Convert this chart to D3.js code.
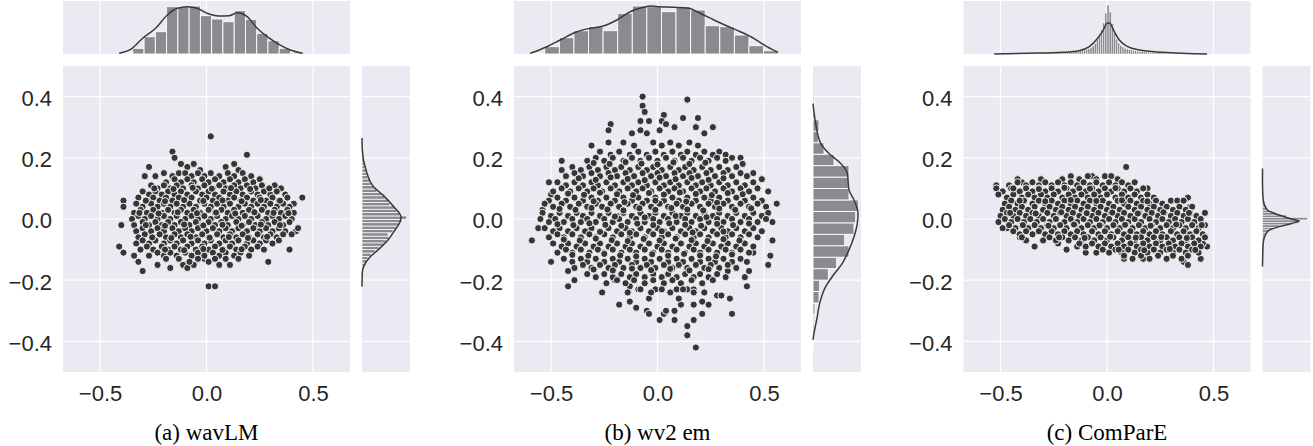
<!DOCTYPE html>
<html><head><meta charset="utf-8">
<script src="https://cdn.jsdelivr.net/npm/d3@7"></script>
<style>body{margin:0;background:#fff;}svg{display:block}</style>
</head><body>
<svg id="chart" width="1313" height="446"></svg>
<script>
// ---------- tick labels / captions ----------
const xTicks = [-0.5, 0, 0.5];
const xTickLabels = ["\u22120.5", "0.0", "0.5"];
const yTicks = [-0.4, -0.2, 0, 0.2, 0.4];
const yTickLabels = ["\u22120.4", "\u22120.2", "0.0", "0.2", "0.4"];
const captions = ["(a) wavLM", "(b) wv2 em", "(c) ComParE"];

// ---------- (a) wavLM ----------
const wavlmPoints = [
[.02,.27],[-.16,.22],[-.15,.20],[.19,.21],[-.27,.17],[-.29,.14],[-.24,.14],[-.39,.06],[-.39,.04],[-.40,-.02],[.45,.07],[.41,.05],[-.41,-.09],[-.39,-.11],[-.34,-.12],[-.32,-.14],[-.30,-.17],[-.23,-.15],[-.17,-.16],[-.11,-.15],[-.09,-.16],[-.06,-.15],[-.01,-.13],[.01,-.14],[.06,-.15],[.11,-.15],[.29,-.14],[.39,-.10],[.42,-.04],[.43,-.03],[.01,-.22],[.04,-.22],
[-.12,.18],[-.09,.17],[-.06,.18],[-.03,.16],[.09,.17],[.13,.18],[.15,.16],
[-.20,.15],[-.16,.14],[-.13,.15],[-.10,.15],[-.07,.14],[-.04,.15],[-.01,.14],[.02,.15],[.06,.14],[.10,.15],[.13,.14],[.17,.15],[.21,.14],
[-.19,.12],[-.15,.13],[-.12,.12],[-.09,.13],[-.06,.12],[-.02,.13],[.01,.12],[.04,.13],[.08,.12],[.11,.13],[.15,.12],[.18,.13],[.22,.12],[.25,.13],
[-.26,.11],[-.23,.10],[-.20,.11],[-.17,.10],[-.14,.11],[-.11,.10],[-.07,.11],[-.04,.10],[-.01,.11],[.03,.10],[.06,.11],[.09,.10],[.13,.11],[.16,.10],[.19,.11],[.23,.10],[.26,.11],[.29,.10],[.32,.11],[.35,.10],
[-.30,.09],[-.27,.08],[-.24,.09],[-.21,.08],[-.18,.09],[-.15,.08],[-.12,.09],[-.09,.08],[-.05,.09],[-.02,.08],[.01,.09],[.04,.08],[.08,.09],[.11,.08],[.14,.09],[.17,.08],[.21,.09],[.24,.08],[.27,.09],[.30,.08],[.33,.09],[.37,.08],
[-.32,.07],[-.28,.06],[-.25,.07],[-.22,.06],[-.19,.07],[-.16,.06],[-.13,.07],[-.10,.06],[-.07,.07],[-.03,.06],[0,.07],[.03,.06],[.06,.07],[.10,.06],[.13,.07],[.16,.06],[.19,.07],[.22,.06],[.25,.07],[.28,.06],[.31,.07],[.34,.06],[.38,.07],
[-.33,.05],[-.30,.04],[-.26,.05],[-.23,.04],[-.20,.05],[-.17,.04],[-.14,.05],[-.11,.04],[-.08,.05],[-.05,.04],[-.01,.05],[.02,.04],[.05,.05],[.08,.04],[.11,.05],[.15,.04],[.18,.05],[.21,.04],[.24,.05],[.27,.04],[.30,.05],[.33,.04],[.36,.05],[.39,.04],
[-.34,.02],[-.31,.03],[-.28,.02],[-.25,.03],[-.21,.02],[-.18,.03],[-.15,.02],[-.12,.03],[-.09,.02],[-.06,.03],[-.03,.02],[.01,.03],[.04,.02],[.07,.03],[.10,.02],[.13,.03],[.17,.02],[.20,.03],[.23,.02],[.26,.03],[.29,.02],[.32,.03],[.35,.02],[.38,.03],[.41,.02],
[-.35,0],[-.32,.01],[-.29,0],[-.26,.01],[-.23,0],[-.20,.01],[-.17,0],[-.14,.01],[-.10,0],[-.07,.01],[-.04,0],[-.01,.01],[.02,0],[.05,.01],[.09,0],[.12,.01],[.15,0],[.18,.01],[.21,0],[.24,.01],[.28,0],[.31,.01],[.34,0],[.37,.01],[.40,0],
[-.34,-.02],[-.30,-.01],[-.27,-.02],[-.24,-.01],[-.21,-.02],[-.18,-.01],[-.15,-.02],[-.12,-.01],[-.08,-.02],[-.05,-.01],[-.02,-.02],[.01,-.01],[.04,-.02],[.07,-.01],[.10,-.02],[.14,-.01],[.17,-.02],[.20,-.01],[.23,-.02],[.26,-.01],[.29,-.02],[.32,-.01],[.36,-.02],[.39,-.01],
[-.33,-.04],[-.30,-.03],[-.26,-.04],[-.23,-.03],[-.20,-.04],[-.16,-.03],[-.13,-.04],[-.10,-.03],[-.07,-.04],[-.04,-.03],[0,-.04],[.03,-.03],[.06,-.04],[.09,-.03],[.12,-.04],[.15,-.03],[.19,-.04],[.22,-.03],[.25,-.04],[.28,-.03],[.31,-.04],[.34,-.03],[.37,-.04],[.40,-.05],
[-.32,-.06],[-.29,-.05],[-.25,-.06],[-.22,-.05],[-.19,-.06],[-.15,-.05],[-.12,-.06],[-.09,-.05],[-.05,-.06],[-.02,-.05],[.01,-.06],[.05,-.05],[.08,-.06],[.11,-.05],[.14,-.06],[.17,-.05],[.20,-.06],[.24,-.05],[.27,-.06],[.30,-.05],[.33,-.06],[.36,-.05],
[-.33,-.08],[-.30,-.07],[-.27,-.08],[-.24,-.07],[-.20,-.08],[-.17,-.07],[-.14,-.08],[-.11,-.07],[-.07,-.08],[-.04,-.07],[-.01,-.08],[.02,-.07],[.06,-.08],[.09,-.07],[.12,-.08],[.15,-.07],[.19,-.08],[.22,-.07],[.25,-.08],[.28,-.07],[.31,-.08],[.34,-.07],
[-.31,-.10],[-.28,-.09],[-.25,-.10],[-.21,-.09],[-.18,-.10],[-.15,-.09],[-.12,-.10],[-.09,-.09],[-.05,-.10],[-.02,-.09],[.01,-.10],[.04,-.09],[.08,-.10],[.11,-.09],[.14,-.10],[.18,-.09],[.21,-.10],[.24,-.09],[.27,-.10],
[-.27,-.12],[-.23,-.11],[-.20,-.12],[-.17,-.11],[-.14,-.12],[-.10,-.11],[-.07,-.12],[-.04,-.11],[-.01,-.12],[.03,-.11],[.06,-.12],[.09,-.11],[.13,-.12],[.16,-.11],[.20,-.12],
[-.19,-.13],[-.13,-.13],[-.08,-.14],[-.04,-.13],[.04,-.13],[.09,-.13],[.15,-.13],
[-.245,.10],[-.155,.098],[-.065,.102],[.025,.099],[.115,.101],[.205,.098],[.295,.1],
[-.285,.06],[-.195,.058],[-.105,.062],[-.015,.059],[.075,.061],[.165,.058],[.255,.062],[.345,.06],
[-.315,.02],[-.225,.018],[-.135,.022],[-.045,.019],[.045,.021],[.135,.018],[.225,.022],[.315,.02],[.385,.019],
[-.285,-.02],[-.195,-.022],[-.105,-.018],[-.015,-.021],[.075,-.019],[.165,-.022],[.255,-.018],[.345,-.02],
[-.255,-.06],[-.165,-.062],[-.075,-.058],[.015,-.061],[.105,-.059],[.195,-.062],[.285,-.058],
[-.195,-.10],[-.105,-.102],[-.015,-.098],[.075,-.101],[.165,-.099]
];
const wavlmXBinStart = -0.399, wavlmXBinWidth = 0.0529;
const wavlmXCounts = [1, 5.7, 17.3, 22.3, 47.3, 47.3, 48, 38.3, 35, 32.3, 43.3, 34.7, 20.7, 13.3, 5.7, 1.2];
const wavlmXKde = [[-.41,.7],[-.349,5.7],[-.30,15.7],[-.239,25.7],[-.184,39],[-.137,45.7],[-.09,47.3],[-.044,45.7],[.003,40.7],[.058,38],[.105,38.3],[.147,41.3],[.191,37.3],[.238,25.7],[.285,17.3],[.332,10.7],[.394,4],[.452,.7]];
const wavlmYBinStart = -0.221, wavlmYBinWidth = 0.011;
const wavlmYCounts = [.6,0,0,.3,.6,1.5,2.5,5,6,9,13,17,22,24,27,26,31,34,37,40,44.7,38,35,33,28,27,23,20,15,12,9,8,6,5,4.5,3,2.5,2,1.2,1,.4,0,0,.3];
const wavlmYKde = [[-.221,0],[-.176,.3],[-.157,1.5],[-.124,8],[-.101,16],[-.0685,26],[-.036,33],[-.0098,38],[.0065,39],[.039,32],[.078,21],[.104,12],[.160,4],[.225,.3],[.265,0]];

// ---------- (b) wv2 em ----------
const wv2Points = [
[-.07,.40],[.14,.39],[-.07,.37],[-.06,.35],[-.08,.32],[-.04,.32],[.03,.34],[.02,.32],[.12,.33],[.19,.33],[-.22,.31],[-.23,.29],[-.23,.25],[-.12,.28],[-.08,.29],[-.05,.28],[.18,.30],[.26,.30],[.22,.28],[.04,.31],[.08,.30],[.01,.29],[-.31,.24],[.29,.22],[.32,.21],[.35,.20],[.39,.20],[.40,.18],[-.45,.19],[-.45,.16],[-.51,.12],[-.50,.08],[-.54,.03],[.52,.09],[.56,.05],[.49,.13],[.45,.15],
[-.56,-.03],[-.59,-.07],[-.50,-.14],[-.42,-.17],[-.42,-.22],[-.39,-.20],[-.26,-.24],[-.20,-.20],[-.18,-.28],[-.13,-.27],[-.10,-.29],[-.05,-.30],[-.04,-.31],[.01,-.33],[.03,-.31],[.08,-.30],[.08,-.33],[.14,-.35],[.14,-.38],[.18,-.42],[.17,-.33],[.17,-.28],[.21,-.27],[.24,-.28],[.21,-.31],[.28,-.25],[.30,-.25],[.34,-.26],[.35,-.31],[.42,-.22],[.41,-.19],[.43,-.17],[.45,-.11],[.52,-.15],[.53,-.12],[.54,-.07],[.54,-.01],[-.04,-.26],[.04,-.30],[.11,-.28],[.10,-.26],[-.01,-.23],[-.09,-.23],[-.13,-.22],[.09,-.23],[.14,-.23],[.17,-.23],[.22,-.24],[.29,-.16],[.33,-.17],
[-.16,.25],[-.11,.24],[-.02,.25],[.02,.24],[.06,.25],[.10,.24],[.15,.25],[.19,.24],
[-.27,.22],[-.22,.21],[-.18,.22],[-.13,.21],[-.09,.22],[-.05,.21],[-.01,.22],[.03,.21],[.07,.22],[.11,.21],[.14,.22],[.18,.21],[.22,.22],[.26,.21],
[-.33,.19],[-.29,.20],[-.25,.19],[-.21,.20],[-.16,.19],[-.12,.20],[-.08,.19],[-.04,.20],[0,.19],[.04,.20],[.08,.19],[.12,.20],[.16,.19],[.20,.20],[.24,.19],[.28,.20],[.32,.19],
[-.40,.17],[-.36,.16],[-.32,.17],[-.28,.16],[-.24,.17],[-.20,.16],[-.17,.17],[-.13,.16],[-.09,.17],[-.05,.16],[-.02,.17],[.02,.16],[.06,.17],[.10,.16],[.13,.17],[.17,.16],[.21,.17],[.25,.16],[.29,.17],[.33,.16],[.37,.17],
[-.43,.14],[-.39,.15],[-.35,.14],[-.31,.15],[-.27,.14],[-.23,.15],[-.19,.14],[-.15,.15],[-.11,.14],[-.07,.15],[-.03,.14],[0,.15],[.04,.14],[.08,.15],[.12,.14],[.15,.15],[.19,.14],[.23,.15],[.27,.14],[.31,.15],[.35,.14],[.39,.15],[.42,.14],
[-.47,.12],[-.43,.11],[-.39,.12],[-.35,.11],[-.31,.12],[-.28,.11],[-.24,.12],[-.20,.11],[-.16,.12],[-.12,.11],[-.09,.12],[-.05,.11],[-.01,.12],[.03,.11],[.06,.12],[.10,.11],[.14,.12],[.18,.11],[.21,.12],[.25,.11],[.29,.12],[.33,.11],[.37,.12],[.41,.11],[.45,.12],
[-.49,.09],[-.45,.10],[-.41,.09],[-.37,.10],[-.33,.09],[-.30,.10],[-.26,.09],[-.22,.10],[-.18,.09],[-.14,.10],[-.10,.09],[-.07,.10],[-.03,.09],[.01,.10],[.05,.09],[.08,.10],[.12,.09],[.16,.10],[.20,.09],[.23,.10],[.27,.09],[.31,.10],[.35,.09],[.39,.10],[.43,.09],[.47,.10],
[-.51,.06],[-.47,.07],[-.43,.06],[-.39,.07],[-.35,.06],[-.31,.07],[-.28,.06],[-.24,.07],[-.20,.06],[-.16,.07],[-.12,.06],[-.09,.07],[-.05,.06],[-.01,.07],[.03,.06],[.07,.07],[.10,.06],[.14,.07],[.18,.06],[.22,.07],[.25,.06],[.29,.07],[.33,.06],[.37,.07],[.41,.06],[.45,.07],[.49,.06],
[-.53,.05],[-.49,.04],[-.45,.05],[-.41,.04],[-.37,.05],[-.33,.04],[-.29,.05],[-.26,.04],[-.22,.05],[-.18,.04],[-.14,.05],[-.10,.04],[-.07,.05],[-.03,.04],[.01,.05],[.05,.04],[.09,.05],[.12,.04],[.16,.05],[.20,.04],[.24,.05],[.27,.04],[.31,.05],[.35,.04],[.39,.05],[.43,.04],[.47,.05],[.51,.04],
[-.54,.02],[-.50,.01],[-.46,.02],[-.42,.01],[-.38,.02],[-.35,.01],[-.31,.02],[-.27,.01],[-.23,.02],[-.19,.01],[-.16,.02],[-.12,.01],[-.08,.02],[-.04,.01],[-.01,.02],[.03,.01],[.07,.02],[.11,.01],[.14,.02],[.18,.01],[.22,.02],[.26,.01],[.29,.02],[.33,.01],[.37,.02],[.41,.01],[.45,.02],[.49,.01],[.52,.02],
[-.55,0],[-.51,-.01],[-.48,0],[-.44,-.01],[-.40,0],[-.36,-.01],[-.33,0],[-.29,-.01],[-.25,0],[-.21,-.01],[-.18,0],[-.14,-.01],[-.10,0],[-.06,-.01],[-.02,0],[.01,-.01],[.05,0],[.09,-.01],[.13,0],[.16,-.01],[.20,0],[.24,-.01],[.28,0],[.31,-.01],[.35,0],[.39,-.01],[.43,0],[.47,-.01],[.51,0],
[-.53,-.03],[-.49,-.04],[-.46,-.03],[-.42,-.04],[-.38,-.03],[-.34,-.04],[-.31,-.03],[-.27,-.04],[-.23,-.03],[-.19,-.04],[-.15,-.03],[-.12,-.04],[-.08,-.03],[-.04,-.04],[0,-.03],[.03,-.04],[.07,-.03],[.11,-.04],[.15,-.03],[.18,-.04],[.22,-.03],[.26,-.04],[.30,-.03],[.33,-.04],[.37,-.03],[.41,-.04],[.45,-.03],[.49,-.04],
[-.51,-.06],[-.47,-.05],[-.44,-.06],[-.40,-.05],[-.36,-.06],[-.32,-.05],[-.29,-.06],[-.25,-.05],[-.21,-.06],[-.17,-.05],[-.13,-.06],[-.10,-.05],[-.06,-.06],[-.02,-.05],[.02,-.06],[.05,-.05],[.09,-.06],[.13,-.05],[.17,-.06],[.20,-.05],[.24,-.06],[.28,-.05],[.32,-.06],[.35,-.05],[.39,-.06],[.43,-.05],[.47,-.06],
[-.49,-.08],[-.45,-.09],[-.42,-.08],[-.38,-.09],[-.34,-.08],[-.30,-.09],[-.27,-.08],[-.23,-.09],[-.19,-.08],[-.15,-.09],[-.12,-.08],[-.08,-.09],[-.04,-.08],[0,-.09],[.03,-.08],[.07,-.09],[.11,-.08],[.15,-.09],[.18,-.08],[.22,-.09],[.26,-.08],[.30,-.09],[.33,-.08],[.37,-.09],[.41,-.08],[.45,-.09],
[-.47,-.11],[-.43,-.10],[-.40,-.11],[-.36,-.10],[-.32,-.11],[-.28,-.10],[-.25,-.11],[-.21,-.10],[-.17,-.11],[-.13,-.10],[-.10,-.11],[-.06,-.10],[-.02,-.11],[.02,-.10],[.05,-.11],[.09,-.10],[.13,-.11],[.17,-.10],[.20,-.11],[.24,-.10],[.28,-.11],[.32,-.10],[.35,-.11],[.39,-.10],[.43,-.11],
[-.44,-.13],[-.40,-.14],[-.36,-.13],[-.33,-.14],[-.29,-.13],[-.25,-.14],[-.21,-.13],[-.18,-.14],[-.14,-.13],[-.10,-.14],[-.06,-.13],[-.03,-.14],[.01,-.13],[.05,-.14],[.09,-.13],[.12,-.14],[.16,-.13],[.20,-.14],[.24,-.13],[.27,-.14],[.31,-.13],[.35,-.14],[.39,-.13],[.42,-.14],
[-.39,-.16],[-.35,-.15],[-.31,-.16],[-.27,-.15],[-.23,-.16],[-.20,-.15],[-.16,-.16],[-.12,-.15],[-.08,-.16],[-.05,-.15],[-.01,-.16],[.03,-.15],[.07,-.16],[.10,-.15],[.14,-.16],[.18,-.15],[.22,-.16],[.25,-.15],[.29,-.16],[.33,-.15],[.37,-.16],
[-.33,-.18],[-.29,-.19],[-.25,-.18],[-.21,-.19],[-.17,-.18],[-.13,-.19],[-.10,-.18],[-.06,-.19],[-.02,-.18],[.02,-.19],[.05,-.18],[.09,-.19],[.13,-.18],[.17,-.19],[.20,-.18],[.24,-.19],[.28,-.18],[.32,-.19],
[-.24,-.21],[-.19,-.20],[-.15,-.21],[-.11,-.20],[-.06,-.21],[-.02,-.20],[.03,-.21],[.07,-.20],[.11,-.21],[.16,-.20],[.21,-.21],[.26,-.20],
[-.14,-.24],[-.08,-.23],[-.03,-.24],[.02,-.23],[.06,-.24],[.12,-.23],[.17,-.24],
[-.30,.183],[-.225,.18],[-.15,.186],[-.075,.181],[0,.178],[.075,.185],[.15,.18],[.225,.184],
[-.37,.133],[-.29,.128],[-.22,.136],[-.14,.131],[-.06,.127],[.01,.135],[.085,.13],[.16,.134],[.24,.128],[.31,.133],
[-.42,.083],[-.345,.079],[-.27,.086],[-.19,.081],[-.115,.078],[-.04,.085],[.03,.08],[.105,.087],[.18,.082],[.255,.078],[.33,.085],[.40,.081],
[-.30,.058],[-.155,.055],[-.01,.06],[.135,.057],[.28,.053],
[-.46,.033],[-.385,.03],[-.31,.036],[-.235,.031],[-.16,.028],[-.085,.035],[-.01,.03],[.065,.036],[.14,.031],[.215,.028],[.29,.034],[.365,.03],[.44,.035],
[-.2,.008],[-.06,.005],[.085,.01],[.23,.006],
[-.47,-.017],[-.395,-.02],[-.32,-.014],[-.245,-.019],[-.17,-.022],[-.095,-.015],[-.02,-.02],[.055,-.014],[.13,-.019],[.205,-.022],[.28,-.016],[.355,-.02],[.43,-.015],
[-.27,-.042],[-.13,-.045],[.02,-.04],[.165,-.044],[.31,-.041],
[-.44,-.067],[-.365,-.07],[-.29,-.064],[-.215,-.069],[-.14,-.072],[-.065,-.065],[.01,-.07],[.085,-.064],[.16,-.069],[.235,-.072],[.31,-.066],[.385,-.07],
[-.40,-.117],[-.325,-.12],[-.25,-.114],[-.175,-.119],[-.1,-.122],[-.025,-.115],[.05,-.12],[.125,-.114],[.2,-.119],[.275,-.122],[.35,-.116],
[-.3,-.165],[-.21,-.168],[-.12,-.162],[-.03,-.167],[.06,-.163],[.15,-.168],[.24,-.164]
];
const wv2XBinStart = -0.598, wv2XBinWidth = 0.0685;
const wv2XCounts = [.5, 7.3, 16.3, 23.3, 27.3, 23.3, 40.7, 48, 47.3, 42.3, 47.3, 44, 28.3, 27.3, 19, 8.3, 3.3];
const wv2XKde = [[-.598,.7],[-.52,7.3],[-.457,14],[-.378,22.3],[-.316,25.7],[-.254,28],[-.191,34],[-.128,42.3],[-.066,46.7],[-.034,48],[.013,47.3],[.077,46.7],[.146,45.7],[.2,40.7],[.265,34],[.327,28],[.389,22.3],[.452,15.7],[.514,7.3],[.566,1.7]];
const wv2YBinStart = -0.424, wv2YBinWidth = 0.0374;
const wv2YCounts = [.5, 1, 1, 2, 6, 6.7, 15.3, 23.7, 36, 31.7, 41, 42.7, 45.3, 36, 35.3, 36, 21, 11, 5.3, 6, 1.5, 1];
const wv2YKde = [[-.395,0],[-.373,1],[-.319,4.3],[-.275,6.7],[-.221,12.7],[-.188,19.3],[-.145,29.3],[-.101,36],[-.058,41],[-.014,44.3],[.019,45],[.062,41],[.095,36],[.149,34.3],[.187,26],[.214,16],[.247,7.7],[.312,2.7],[.377,0]];

// ---------- (c) ComParE ----------
const comparePoints = [
[.09,.17],[.19,.10],[-.52,.11],[-.40,.12],[-.07,.14],[.38,.07],[.39,.04],[.46,.02],[-.47,-.03],[-.41,-.06],[-.38,-.07],[-.34,-.09],[-.23,-.08],[-.19,-.10],[-.14,-.09],[-.10,-.11],[-.05,-.11],[.08,-.13],[.17,-.13],[.36,-.14],[.38,-.15],[.44,-.13],[.47,-.09],[.45,-.08],
[-.42,.13],[-.31,.13],[-.21,.13],[-.17,.14],[-.13,.13],[-.09,.14],[-.05,.13],[-.01,.14],[.02,.14],[.05,.13],
[-.46,.11],[-.42,.12],[-.38,.11],[-.35,.12],[-.32,.11],[-.29,.12],[-.26,.11],[-.23,.12],[-.20,.11],[-.17,.12],[-.14,.11],[-.11,.12],[-.08,.11],[-.05,.12],[-.02,.11],[.01,.12],[.04,.11],[.07,.12],[.10,.11],[.13,.12],
[-.52,.10],[-.49,.09],[-.45,.10],[-.41,.09],[-.38,.10],[-.35,.09],[-.32,.10],[-.29,.09],[-.26,.10],[-.23,.09],[-.19,.10],[-.16,.09],[-.13,.10],[-.10,.09],[-.07,.10],[-.04,.09],[-.01,.10],[.02,.09],[.05,.10],[.08,.09],[.11,.10],[.14,.09],[.17,.10],
[-.51,.08],[-.47,.07],[-.44,.08],[-.40,.07],[-.37,.08],[-.34,.07],[-.31,.08],[-.28,.07],[-.25,.08],[-.21,.07],[-.18,.08],[-.15,.07],[-.12,.08],[-.09,.07],[-.06,.08],[-.03,.07],[0,.08],[.04,.07],[.07,.08],[.10,.07],[.13,.08],[.16,.07],[.19,.08],[.22,.07],
[-.48,.05],[-.45,.06],[-.42,.05],[-.39,.06],[-.35,.05],[-.32,.06],[-.29,.05],[-.26,.06],[-.23,.05],[-.20,.06],[-.17,.05],[-.14,.06],[-.11,.05],[-.08,.06],[-.05,.05],[-.02,.06],[.01,.05],[.05,.06],[.08,.05],[.11,.06],[.14,.05],[.17,.06],[.20,.05],[.23,.06],[.26,.05],[.30,.06],[.33,.06],[.36,.06],
[-.49,.03],[-.46,.04],[-.43,.03],[-.40,.04],[-.37,.03],[-.34,.04],[-.30,.03],[-.27,.04],[-.24,.03],[-.21,.04],[-.18,.03],[-.15,.04],[-.12,.03],[-.09,.04],[-.06,.03],[-.03,.04],[0,.03],[.03,.04],[.06,.03],[.10,.04],[.13,.03],[.16,.04],[.19,.03],[.22,.04],[.25,.03],[.28,.04],[.31,.03],[.34,.04],[.37,.03],[.40,.04],
[-.50,.01],[-.47,.02],[-.44,.01],[-.41,.02],[-.38,.01],[-.35,.02],[-.32,.01],[-.28,.02],[-.25,.01],[-.22,.02],[-.19,.01],[-.16,.02],[-.13,.01],[-.10,.02],[-.07,.01],[-.04,.02],[-.01,.01],[.02,.02],[.05,.01],[.08,.02],[.11,.01],[.15,.02],[.18,.01],[.21,.02],[.24,.01],[.27,.02],[.30,.01],[.33,.02],[.36,.01],[.39,.02],[.42,.01],
[-.51,-.01],[-.48,0],[-.45,-.01],[-.42,0],[-.39,-.01],[-.36,0],[-.33,-.01],[-.30,0],[-.27,-.01],[-.24,0],[-.20,-.01],[-.17,0],[-.14,-.01],[-.11,0],[-.08,-.01],[-.05,0],[-.02,-.01],[.01,0],[.04,-.01],[.07,0],[.10,-.01],[.13,0],[.16,-.01],[.20,0],[.23,-.01],[.26,0],[.29,-.01],[.32,0],[.35,-.01],[.38,0],[.41,-.01],[.44,0],
[-.49,-.03],[-.46,-.02],[-.43,-.03],[-.40,-.02],[-.37,-.03],[-.34,-.02],[-.31,-.03],[-.28,-.02],[-.25,-.03],[-.22,-.02],[-.19,-.03],[-.15,-.02],[-.12,-.03],[-.09,-.02],[-.06,-.03],[-.03,-.02],[0,-.03],[.03,-.02],[.06,-.03],[.09,-.02],[.12,-.03],[.15,-.02],[.18,-.03],[.21,-.02],[.25,-.03],[.28,-.02],[.31,-.03],[.34,-.02],[.37,-.03],[.40,-.02],[.43,-.03],[.46,-.02],
[-.44,-.04],[-.41,-.05],[-.38,-.04],[-.35,-.05],[-.32,-.04],[-.29,-.05],[-.26,-.04],[-.23,-.05],[-.20,-.04],[-.17,-.05],[-.14,-.04],[-.11,-.05],[-.07,-.04],[-.04,-.05],[-.01,-.04],[.02,-.05],[.05,-.04],[.08,-.05],[.11,-.04],[.14,-.05],[.17,-.04],[.20,-.05],[.23,-.04],[.26,-.05],[.30,-.04],[.33,-.05],[.36,-.04],[.39,-.05],[.42,-.04],[.45,-.05],
[-.40,-.06],[-.30,-.07],[-.27,-.06],[-.24,-.07],[-.21,-.06],[-.18,-.07],[-.15,-.06],[-.12,-.07],[-.09,-.06],[-.06,-.07],[-.03,-.06],[0,-.07],[.03,-.06],[.07,-.07],[.10,-.06],[.13,-.07],[.16,-.06],[.19,-.07],[.22,-.06],[.25,-.07],[.28,-.06],[.31,-.07],[.34,-.06],[.37,-.07],[.40,-.06],[.43,-.07],[.46,-.06],
[-.13,-.08],[-.10,-.09],[-.07,-.08],[-.04,-.09],[-.01,-.08],[.02,-.09],[.05,-.08],[.08,-.09],[.11,-.08],[.14,-.09],[.17,-.08],[.20,-.09],[.23,-.08],[.26,-.09],[.29,-.08],[.32,-.09],[.35,-.08],[.38,-.09],[.41,-.08],[.44,-.09],
[-.02,-.10],[.01,-.11],[.04,-.10],[.07,-.11],[.10,-.10],[.13,-.11],[.16,-.10],[.19,-.11],[.22,-.10],[.25,-.11],[.28,-.10],[.31,-.11],[.34,-.10],[.37,-.11],[.40,-.10],[.43,-.11],
[.08,-.12],[.12,-.13],[.16,-.12],[.20,-.13],[.24,-.12],[.28,-.13],[.31,-.12],[.35,-.13],[.38,-.12],
[-.44,.10],[-.32,.098],[-.2,.102],[-.08,.099],[.04,.101],
[-.41,.06],[-.29,.058],[-.17,.062],[-.05,.059],[.07,.061],[.19,.058],
[-.455,.02],[-.335,.018],[-.215,.022],[-.095,.019],[.025,.021],[.145,.018],[.265,.022],[.385,.02],
[-.395,-.02],[-.275,-.022],[-.155,-.018],[-.035,-.021],[.085,-.019],[.205,-.022],[.325,-.018],[.445,-.02],
[-.225,-.06],[-.105,-.062],[.015,-.058],[.135,-.061],[.255,-.059],[.375,-.062],
[.055,-.10],[.175,-.102],[.295,-.098],[.415,-.101]
];
const compareXBinStart = -0.53, compareXBinWidth = 0.01;
const compareXCounts = [
.3,.3,.3,.4,.4,.4,.4,.5,.5,.5, .5,.5,.6,.6,.6,.7,.7,.7,.8,.8,
.8,.9,.9,1,1,1,1.1,1.1,1.2,1.3, 1.4,1.5,1.6,1.7,1.8,2,2.1,2.3,2.5,2.8,
3,3.4,4,4.6,5.4,6.5,8,10.5,14,18, 24,31,41,49,42,30,21,15,11,8.5,
7,5.8,5,4.4,4,3.6,3.2,2.9,2.6,2.4, 2.2,2,1.9,1.8,1.7,1.6,1.5,1.4,1.3,1.2,
1.1,1,1,.9,.9,.8,.8,.7,.7,.6, .6,.5,.5,.5,.4,.4,.4,.3,.3,.3];
const compareXKde = [[-.53,0],[-.366,.7],[-.21,1.7],[-.131,3.3],[-.083,7.3],[-.044,15.7],[-.013,25.7],[-.004,30],[.008,31.3],[.018,29.8],[.027,25.7],[.058,14],[.097,7.3],[.152,4],[.262,1.7],[.47,0]];
const compareYBinStart = -0.155, compareYBinWidth = 0.008;
const compareYCounts = [.3,.3,.4,.4,.5,.6,.7,.8,.9,1,1.3,1.8,2.5,3.5,6,11,17,28,37,45,24,14,7,4.5,3,2,1.5,1.2,1,.9,.8,.7,.6,.5,.4,.4,.3,.3,.2,.2];
const compareYKde = [[-.155,0],[-.123,.2],[-.079,.7],[-.041,5],[-.025,16.7],[-.014,30],[-.0065,36.7],[-.001,30],[.013,16.7],[.029,5],[.062,.7],[.116,0],[.165,0]];

// ---------- layout / style ----------
const panelLeft = [63, 514, 963.5];
const MAIN_W = 287, MAIN_TOP = 66, MAIN_BOT = 372;
const TOP_Y0 = 1, TOP_Y1 = 54, TOP_MAX = 53;
const RIGHT_OFF = 299, RIGHT_W = 48, RIGHT_MAX = 48;
const BG = "#eaeaf2", GRID = "#ffffff", BAR = "#8a8a8f", LINE = "#3a3a3a", DOT = "#363636", TXT = "#262626";
const FONT = "'Liberation Sans', Arial, Helvetica, sans-serif";

const panels = [
  {pts: wavlmPoints, xs: wavlmXBinStart, xw: wavlmXBinWidth, xc: wavlmXCounts, xk: wavlmXKde, ys: wavlmYBinStart, yw: wavlmYBinWidth, yc: wavlmYCounts, yk: wavlmYKde},
  {pts: wv2Points, xs: wv2XBinStart, xw: wv2XBinWidth, xc: wv2XCounts, xk: wv2XKde, ys: wv2YBinStart, yw: wv2YBinWidth, yc: wv2YCounts, yk: wv2YKde},
  {pts: comparePoints, xs: compareXBinStart, xw: compareXBinWidth, xc: compareXCounts, xk: compareXKde, ys: compareYBinStart, yw: compareYBinWidth, yc: compareYCounts, yk: compareYKde}
];

const svg = d3.select("#chart");

panels.forEach((p, i) => {
  const ox = panelLeft[i];
  const g = svg.append("g");
  const x = d3.scaleLinear().domain([-0.674, 0.674]).range([ox, ox + MAIN_W]);
  const y = d3.scaleLinear().domain([-0.5, 0.5]).range([MAIN_BOT, MAIN_TOP]);
  const hTop = d3.scaleLinear().domain([0, TOP_MAX]).range([TOP_Y1, TOP_Y0]);
  const rx0 = ox + RIGHT_OFF;
  const wRight = d3.scaleLinear().domain([0, RIGHT_MAX]).range([rx0, rx0 + RIGHT_W]);

  // backgrounds
  g.append("rect").attr("x", ox).attr("y", MAIN_TOP).attr("width", MAIN_W).attr("height", MAIN_BOT - MAIN_TOP).attr("fill", BG);
  g.append("rect").attr("x", ox).attr("y", TOP_Y0).attr("width", MAIN_W).attr("height", TOP_Y1 - TOP_Y0).attr("fill", BG);
  g.append("rect").attr("x", rx0).attr("y", MAIN_TOP).attr("width", RIGHT_W).attr("height", MAIN_BOT - MAIN_TOP).attr("fill", BG);

  // grid lines
  const grid = g.append("g").attr("stroke", GRID).attr("stroke-width", 1.2);
  xTicks.forEach(t => {
    grid.append("line").attr("x1", x(t)).attr("x2", x(t)).attr("y1", MAIN_TOP).attr("y2", MAIN_BOT);
    grid.append("line").attr("x1", x(t)).attr("x2", x(t)).attr("y1", TOP_Y0).attr("y2", TOP_Y1);
  });
  yTicks.forEach(t => {
    grid.append("line").attr("x1", ox).attr("x2", ox + MAIN_W).attr("y1", y(t)).attr("y2", y(t));
    grid.append("line").attr("x1", rx0).attr("x2", rx0 + RIGHT_W).attr("y1", y(t)).attr("y2", y(t));
  });

  // top histogram + kde
  const xb = p.xc.map((c, k) => ({x0: p.xs + k * p.xw, x1: p.xs + (k + 1) * p.xw, c}));
  g.append("g").selectAll("rect").data(xb).join("rect")
    .attr("x", d => x(d.x0)).attr("width", d => x(d.x1) - x(d.x0))
    .attr("y", d => hTop(d.c)).attr("height", d => hTop(0) - hTop(d.c))
    .attr("fill", BAR).attr("stroke", "#fff")
    .attr("stroke-width", d => Math.min(0.9, (x(d.x1) - x(d.x0)) * 0.22));
  g.append("path").datum(p.xk)
    .attr("d", d3.line().x(d => x(d[0])).y(d => hTop(d[1])).curve(d3.curveMonotoneX))
    .attr("fill", "none").attr("stroke", LINE).attr("stroke-width", 1.5);

  // right histogram + kde
  const yb = p.yc.map((c, k) => ({y0: p.ys + k * p.yw, y1: p.ys + (k + 1) * p.yw, c}));
  g.append("g").selectAll("rect").data(yb).join("rect")
    .attr("x", rx0).attr("width", d => wRight(d.c) - rx0)
    .attr("y", d => y(d.y1)).attr("height", d => y(d.y0) - y(d.y1))
    .attr("fill", BAR).attr("stroke", "#fff")
    .attr("stroke-width", d => Math.min(0.9, (y(d.y0) - y(d.y1)) * 0.22));
  const yk = p.yk.slice().sort((a, b) => b[0] - a[0]);
  g.append("path").datum(yk)
    .attr("d", d3.line().x(d => wRight(d[1])).y(d => y(d[0])).curve(d3.curveMonotoneY))
    .attr("fill", "none").attr("stroke", LINE).attr("stroke-width", 1.5);

  // scatter
  g.append("g").selectAll("circle").data(p.pts).join("circle")
    .attr("cx", d => x(d[0])).attr("cy", d => y(d[1])).attr("r", 3.6)
    .attr("fill", DOT).attr("stroke", "#fff").attr("stroke-width", 0.9);

  // axes
  const ax = g.append("g").attr("transform", `translate(0,${MAIN_BOT})`)
    .call(d3.axisBottom(x).tickValues(xTicks).tickFormat((d, k) => xTickLabels[k]).tickSize(0).tickPadding(13.5));
  const ay = g.append("g").attr("transform", `translate(${ox},0)`)
    .call(d3.axisLeft(y).tickValues(yTicks).tickFormat((d, k) => yTickLabels[k]).tickSize(0).tickPadding(11));
  [ax, ay].forEach(a => {
    a.select(".domain").remove();
    a.attr("font-family", FONT).attr("font-size", 22);
    a.selectAll("text").attr("fill", TXT);
  });
  ay.selectAll("text").attr("dy", "0.4em");

  // caption
  g.append("text").attr("x", ox + MAIN_W / 2).attr("y", 440).attr("text-anchor", "middle")
    .attr("font-family", "'Liberation Serif', 'Times New Roman', serif").attr("font-size", 23)
    .attr("fill", "#000").text(captions[i]);
});
</script>
</body></html>
